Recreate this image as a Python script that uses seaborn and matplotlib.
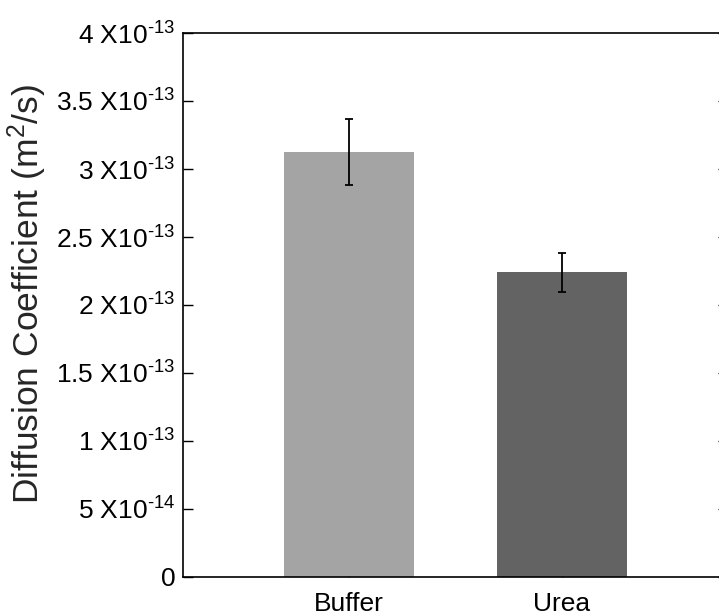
import numpy as np
import pandas as pd
import matplotlib
matplotlib.use('Agg')
import matplotlib.pyplot as plt
import seaborn as sns

# data
conditions = ['Buffer', 'Urea']
diff_coef = [3.125e-13, 2.24e-13]
diff_err = [0.245e-13, 0.145e-13]
bar_colors = ['#a3a4a3', '#636364']
y_ticks = [0, 0.5e-13, 1e-13, 1.5e-13, 2e-13, 2.5e-13, 3e-13, 3.5e-13, 4e-13]
hy = '\u2010'
y_ticklabels = ['0', '5 X10$^{%s14}$' % hy, '1 X10$^{%s13}$' % hy, '1.5 X10$^{%s13}$' % hy,
				'2 X10$^{%s13}$' % hy, '2.5 X10$^{%s13}$' % hy, '3 X10$^{%s13}$' % hy,
				'3.5 X10$^{%s13}$' % hy, '4 X10$^{%s13}$' % hy]

sns.set_style('white')
plt.rcParams['font.family'] = ['Liberation Sans', 'DejaVu Sans']
plt.rcParams['mathtext.fontset'] = 'custom'
plt.rcParams['mathtext.rm'] = 'Liberation Sans'
plt.rcParams['mathtext.it'] = 'Liberation Sans'
plt.rcParams['mathtext.default'] = 'regular'

df = pd.DataFrame({'condition': conditions, 'D': diff_coef})

fig = plt.figure(figsize=(7.19, 6.14), dpi=100)
# right spine falls just outside the canvas, as in the reference
ax = fig.add_axes([183/719, 1-577/614, (728-183)/719, (577-33)/614])
sns.barplot(ax=ax, x='condition', y='D', hue='condition', data=df,
			palette=bar_colors, width=0.61, errorbar=None, legend=False,
			saturation=1, linewidth=0)
ax.errorbar(range(len(conditions)), diff_coef, yerr=diff_err, fmt='none',
			ecolor='black', elinewidth=1.3, capsize=3, capthick=1.3)

ax.set_xlim(-0.78, 1.78)
ax.set_ylim(0, 4e-13)
ax.set_yticks(y_ticks)
ax.set_yticklabels(y_ticklabels, fontsize=19)
ax.set_xticks(range(len(conditions)))
ax.set_xticklabels(conditions, fontsize=19)
ax.set_xlabel('')
ax.set_ylabel('Diffusion Coefficient (m$^2$/s)', fontsize=25.5)
ax.yaxis.set_label_coords(-0.245, 0.521)
ax.tick_params(axis='y', direction='in', length=7, width=1, left=True, right=True, pad=5.5, colors='black')
ax.tick_params(axis='x', direction='in', length=7, width=1, bottom=True, pad=10.5, colors='black')
for side in ['left', 'right', 'top', 'bottom']:
	ax.spines[side].set_visible(True)
	ax.spines[side].set_color('black')
	ax.spines[side].set_linewidth(1.2)

fig.savefig('out.png', dpi=100)
